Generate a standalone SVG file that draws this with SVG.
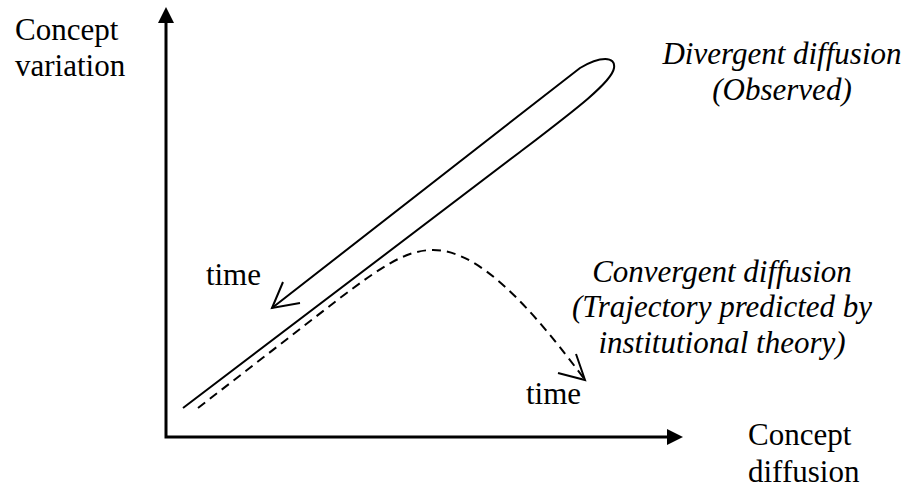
<svg xmlns="http://www.w3.org/2000/svg" width="911" height="489" viewBox="0 0 911 489">
<style>
text{font-family:"Liberation Serif","Times New Roman",serif;font-size:31px;fill:#000}
.it{font-style:italic}
.ax{stroke:#000;stroke-width:3;fill:none}
.ln{stroke:#000;stroke-width:2;fill:none}
.ds{stroke:#000;stroke-width:2;fill:none;stroke-dasharray:9 6}
</style>
<rect width="911" height="489" fill="#fff"/>
<g id="axes">
<path class="ax" d="M166,22 V437 H668"/>
<polygon points="166,7 158,23 174,23" fill="#000"/>
<polygon points="683,437 667,429 667,445" fill="#000"/>
</g>
<g id="connectors">
<path id="divergent" class="ln" d="M183,408 L520,152 C575,110 612,82 614,68 C616,56 600,56 580,68 L272,308"/>
<path class="ln" d="M283,282 L272,308 L300,303"/>
<path id="convergent" class="ds" d="M198,408 L340,298 C380,268 405,250 433,250 C470,250 515,285 585,380"/>
<path class="ln" d="M558,373 L585,380 L576,354"/>
</g>
<g id="labels">
<text x="15" y="40">Concept</text>
<text x="15" y="76">variation</text>
<text class="it" x="782" y="64" text-anchor="middle">Divergent diffusion</text>
<text class="it" x="782" y="100" text-anchor="middle">(Observed)</text>
<text class="it" x="722" y="282" text-anchor="middle">Convergent diffusion</text>
<text class="it" x="722" y="317" text-anchor="middle">(Trajectory predicted by</text>
<text class="it" x="722" y="353" text-anchor="middle">institutional theory)</text>
<text x="261" y="285" text-anchor="end">time</text>
<text x="526" y="404">time</text>
<text x="748" y="445">Concept</text>
<text x="748" y="482">diffusion</text>
</g>
</svg>
